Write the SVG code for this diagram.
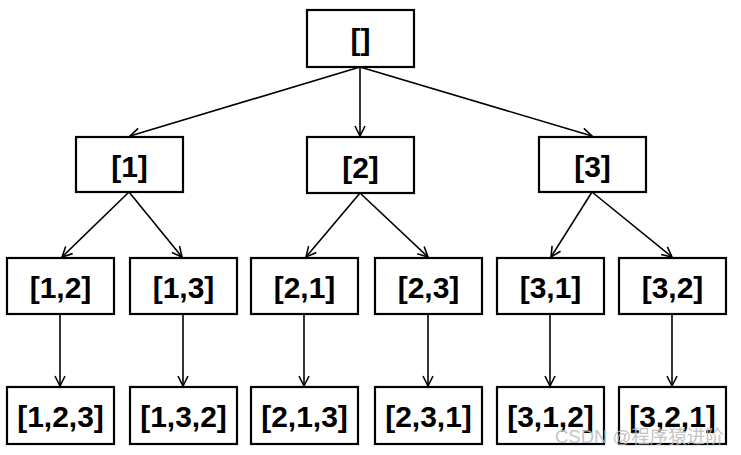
<svg xmlns="http://www.w3.org/2000/svg" width="741" height="455" viewBox="0 0 741 455">
<defs>
<marker id="ah" viewBox="0 0 12 12" refX="11" refY="6" markerWidth="12" markerHeight="12" markerUnits="userSpaceOnUse" orient="auto">
<path d="M1,1 L11,6 L1,11" fill="none" stroke="#000" stroke-width="1.6"/>
</marker>
</defs>
<style>
.box{fill:#fff;stroke:#000;stroke-width:2.2}
.t{font-family:"Liberation Sans",Arial,sans-serif;font-weight:bold;font-size:30px;text-anchor:middle;fill:#000}
.c{stroke:#000;stroke-width:1.6;fill:none;marker-end:url(#ah)}
.wm{font-family:"Liberation Sans","Noto Sans CJK SC",sans-serif;font-size:18.5px;fill:#bbb;opacity:0.85}
</style>
<rect width="741" height="455" fill="#fff"/>
<g id="connectors">
<line class="c" x1="360" y1="67" x2="130" y2="136"/>
<line class="c" x1="360" y1="67" x2="360" y2="136"/>
<line class="c" x1="360" y1="67" x2="592" y2="136"/>
<line class="c" x1="129" y1="192" x2="62" y2="257"/>
<line class="c" x1="129" y1="192" x2="182" y2="257"/>
<line class="c" x1="360" y1="193" x2="306" y2="257"/>
<line class="c" x1="360" y1="193" x2="428" y2="257"/>
<line class="c" x1="592" y1="192" x2="551" y2="257"/>
<line class="c" x1="592" y1="192" x2="672" y2="257"/>
<line class="c" x1="60" y1="314" x2="60" y2="386"/>
<line class="c" x1="183" y1="314" x2="183" y2="386"/>
<line class="c" x1="304" y1="314" x2="304" y2="386"/>
<line class="c" x1="428" y1="314" x2="428" y2="386"/>
<line class="c" x1="550" y1="314" x2="550" y2="386"/>
<line class="c" x1="672" y1="314" x2="672" y2="386"/>
</g>
<g id="n0"><rect class="box" x="307" y="10" width="107" height="57"/><text class="t" x="360.5" y="50">[]</text></g>
<g id="n1"><rect class="box" x="76" y="137" width="107" height="55"/><text class="t" x="129.5" y="177">[1]</text></g>
<g id="n2"><rect class="box" x="307" y="137" width="107" height="56"/><text class="t" x="360.5" y="178">[2]</text></g>
<g id="n3"><rect class="box" x="539" y="137" width="107" height="55"/><text class="t" x="592.5" y="177">[3]</text></g>
<g id="n12"><rect class="box" x="7" y="258" width="107" height="56"/><text class="t" x="60.5" y="298">[1,2]</text></g>
<g id="n13"><rect class="box" x="130" y="258" width="107" height="56"/><text class="t" x="183.5" y="298">[1,3]</text></g>
<g id="n21"><rect class="box" x="251" y="258" width="107" height="56"/><text class="t" x="304.5" y="298">[2,1]</text></g>
<g id="n23"><rect class="box" x="375" y="258" width="107" height="56"/><text class="t" x="428.5" y="298">[2,3]</text></g>
<g id="n31"><rect class="box" x="497" y="258" width="107" height="56"/><text class="t" x="550.5" y="298">[3,1]</text></g>
<g id="n32"><rect class="box" x="619" y="258" width="107" height="56"/><text class="t" x="672.5" y="298">[3,2]</text></g>
<g id="n123"><rect class="box" x="7" y="387" width="107" height="57"/><text class="t" x="60.5" y="427">[1,2,3]</text></g>
<g id="n132"><rect class="box" x="130" y="387" width="107" height="57"/><text class="t" x="183.5" y="427">[1,3,2]</text></g>
<g id="n213"><rect class="box" x="251" y="387" width="107" height="57"/><text class="t" x="304.5" y="427">[2,1,3]</text></g>
<g id="n231"><rect class="box" x="375" y="387" width="107" height="57"/><text class="t" x="428.5" y="427">[2,3,1]</text></g>
<g id="n312"><rect class="box" x="497" y="387" width="107" height="57"/><text class="t" x="550.5" y="427">[3,1,2]</text></g>
<g id="n321"><rect class="box" x="619" y="387" width="107" height="57"/><text class="t" x="672.5" y="427">[3,2,1]</text></g>
<text class="wm" x="555" y="443">CSDN @程序猿进阶</text>
</svg>
